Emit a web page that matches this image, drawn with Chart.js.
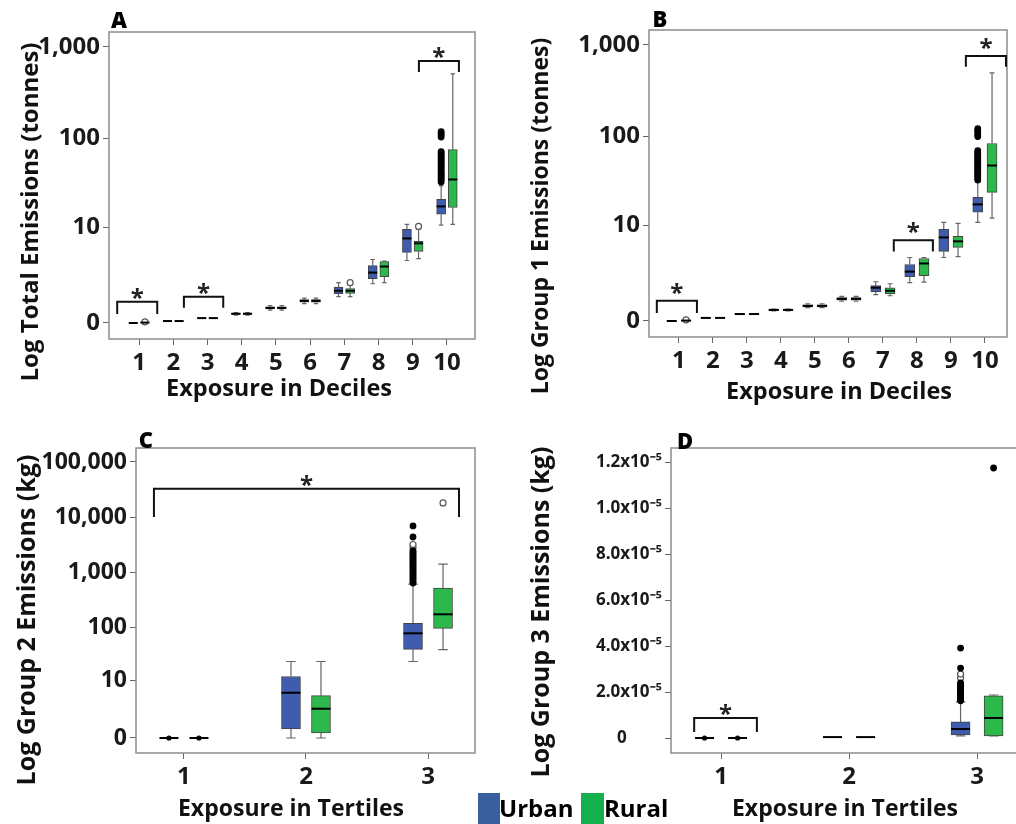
<!DOCTYPE html>
<html>
<head>
<meta charset="utf-8">
<script src="https://cdn.jsdelivr.net/npm/chart.js@4.4.1/dist/chart.umd.min.js"></script>
<style>
  body { margin: 0; width: 1016px; height: 824px; overflow: hidden; background: #fff; position: relative; font-family: "Open Sans", sans-serif; }
  canvas { position: absolute; }
  .t { position: absolute; font-weight: 700; color: #111; white-space: nowrap; transform: translate(-50%, -50%); }
  .rot { transform: translate(-50%, -50%) rotate(-90deg); }
  .letter { font-weight: 800; font-size: 22px; color: #000; }
  .swatch { position: absolute; width: 22px; height: 31px; top: 793px; }
  .leg { position: absolute; top: 791px; font-size: 24px; line-height: 33px; font-weight: 700; color: #000; }
</style>
</head>
<body>
<canvas id="pa" width="500" height="400" style="left:0;top:0"></canvas>
<canvas id="pb" width="516" height="400" style="left:500px;top:0"></canvas>
<canvas id="pc" width="500" height="424" style="left:0;top:400px"></canvas>
<canvas id="pd" width="540" height="424" style="left:500px;top:400px"></canvas>

<div class="t letter" style="left:119px;top:19px">A</div>
<div class="t letter" style="left:660px;top:18px">B</div>
<div class="t letter" style="left:146px;top:439px">C</div>
<div class="t letter" style="left:685px;top:440px">D</div>

<div class="t rot" style="left:28px;top:212px;font-size:24px">Log Total Emissions (tonnes)</div>
<div class="t rot" style="left:539px;top:216px;font-size:23px">Log Group 1 Emissions (tonnes)</div>
<div class="t rot" style="left:25px;top:620px;font-size:25px">Log Group 2 Emissions (kg)</div>
<div class="t rot" style="left:539px;top:612px;font-size:25px">Log Group 3 Emissions (kg)</div>

<div class="t" style="left:279px;top:387px;font-size:23.5px">Exposure in Deciles</div>
<div class="t" style="left:839px;top:390px;font-size:23.5px">Exposure in Deciles</div>
<div class="t" style="left:291px;top:807px;font-size:23px">Exposure in Tertiles</div>
<div class="t" style="left:845px;top:807px;font-size:23px">Exposure in Tertiles</div>

<div class="swatch" style="left:478px;background:#3a5f9e"></div>
<div class="leg" style="left:499px">Urban</div>
<div class="swatch" style="left:581px;width:23px;background:#14b04e"></div>
<div class="leg" style="left:604px">Rural</div>

<script>
// emissions box plots - urban vs rural by exposure group

const URBAN = '#3f5caf';
const RURAL = '#2cb84b';

// y is drawn as log10(value + 1), so 0 sits at the bottom
const logPlus1 = v => Math.log10(v + 1);
const plain = v => v;

const decileLabels = ['1', '2', '3', '4', '5', '6', '7', '8', '9', '10'];
const tertileLabels = ['1', '2', '3'];

const tonnesTicks = [0, 10, 100, 1000];
const tonnesTickLabels = ['0', '10', '100', '1,000'];
const kgTicks = [0, 10, 100, 1000, 10000, 100000];
const kgTickLabels = ['0', '10', '100', '1,000', '10,000', '100,000'];
const g3Ticks = [0, 2, 4, 6, 8, 10, 12]; // units of 10^-5 kg
const g3TickLabels = ['0        ', '2.0x10⁻⁵', '4.0x10⁻⁵', '6.0x10⁻⁵', '8.0x10⁻⁵', '1.0x10⁻⁵', '1.2x10⁻⁵'];

// box stats: [low whisker, q1, median, q3, high whisker]
const totalUrban = [
  [0, 0, 0, 0, 0],
  [0.04, 0.045, 0.05, 0.055, 0.06],
  [0.11, 0.12, 0.13, 0.14, 0.15],
  [0.22, 0.24, 0.26, 0.28, 0.30],
  [0.38, 0.42, 0.46, 0.50, 0.55],
  [0.62, 0.68, 0.74, 0.80, 0.86],
  [0.93, 1.08, 1.24, 1.45, 1.74],
  [1.67, 2.03, 2.53, 3.21, 3.90],
  [3.78, 4.85, 7.30, 9.45, 10.8],
  [10.6, 14.2, 17.5, 21.1, 30]
];
const totalRural = [
  [0, 0, 0.01, 0.02, 0.02],
  [0.04, 0.045, 0.05, 0.055, 0.06],
  [0.11, 0.12, 0.13, 0.14, 0.15],
  [0.22, 0.24, 0.26, 0.28, 0.30],
  [0.38, 0.42, 0.46, 0.50, 0.55],
  [0.62, 0.68, 0.74, 0.80, 0.86],
  [0.93, 1.10, 1.24, 1.36, 1.60],
  [1.74, 2.19, 3.11, 3.66, 3.70],
  [4.02, 5.00, 6.34, 6.72, 9.45],
  [10.8, 17.0, 35.3, 75.7, 509]
];
// outlier kinds: 'filled' extreme, 'open' outlier, 'dot' small marker
const totalOutliers = [
  { cat: 10, grp: 'urban', kind: 'filled', vals: [33, 34.5, 36, 37.5, 39, 40.5, 42, 44, 46, 48, 50, 52, 54, 56.5, 59, 61.5, 64, 67, 70, 72, 104, 109, 114, 119] },
  { cat: 1, grp: 'rural', kind: 'open', vals: [0.03] },
  { cat: 7, grp: 'rural', kind: 'open', vals: [1.74] },
  { cat: 9, grp: 'rural', kind: 'open', vals: [10.2] }
];
// significance brackets: [from x, to x, top value, leg end value]
const totalBrackets = [
  [0.36, 1.53, 0.70, 0.25],
  [2.31, 3.46, 0.93, 0.46],
  [9.18, 10.35, 704, 535]
];

const g1Urban = [
  [0, 0, 0, 0, 0],
  [0.07, 0.075, 0.08, 0.085, 0.09],
  [0.17, 0.18, 0.19, 0.20, 0.21],
  [0.29, 0.30, 0.32, 0.34, 0.35],
  [0.40, 0.42, 0.46, 0.50, 0.54],
  [0.64, 0.68, 0.74, 0.80, 0.85],
  [0.93, 1.08, 1.30, 1.42, 1.67],
  [1.61, 2.03, 2.44, 3.11, 3.90],
  [3.90, 4.70, 7.10, 8.94, 10.8],
  [10.8, 14.2, 17.5, 21.1, 31]
];
const g1Rural = [
  [0, 0, 0.01, 0.02, 0.02],
  [0.07, 0.075, 0.08, 0.085, 0.09],
  [0.17, 0.18, 0.19, 0.20, 0.21],
  [0.29, 0.30, 0.32, 0.34, 0.35],
  [0.40, 0.42, 0.46, 0.50, 0.54],
  [0.64, 0.68, 0.74, 0.80, 0.85],
  [0.88, 0.98, 1.13, 1.30, 1.54],
  [1.65, 2.11, 3.22, 3.78, 3.90],
  [4.00, 5.30, 6.34, 7.33, 10.5],
  [12.1, 24, 48, 84, 497]
];
const g1Outliers = [
  { cat: 10, grp: 'urban', kind: 'filled', vals: [33, 34.5, 36, 37.5, 39, 40.5, 42, 44, 46, 48, 50, 52, 54, 56.5, 59, 61.5, 64, 67, 70, 100, 105, 111, 117, 122] },
  { cat: 1, grp: 'rural', kind: 'open', vals: [0.03] }
];
const g1Brackets = [
  [0.35, 1.53, 0.66, 0.22],
  [7.32, 8.47, 6.53, 4.70],
  [9.44, 10.62, 760, 578]
];

const g2Urban = [
  [0, 0, 0, 0, 0],
  [0, 0.46, 5.6, 12.0, 23.3],
  [23.3, 39.3, 77.7, 118, 610]
];
const g2Rural = [
  [0, 0, 0, 0, 0],
  [0, 0.23, 2.39, 4.85, 23.3],
  [39, 96, 173, 517, 1410]
];
const g2Outliers = [
  { cat: 1, grp: 'urban', kind: 'dot', vals: [0] },
  { cat: 1, grp: 'rural', kind: 'dot', vals: [0] },
  { cat: 3, grp: 'urban', kind: 'filled', vals: [640, 680, 720, 770, 820, 870, 930, 990, 1050, 1120, 1190, 1270, 1350, 1440, 1530, 1630, 1730, 1840, 1960, 2080, 2200, 2330, 2450, 4370, 6930] },
  { cat: 3, grp: 'urban', kind: 'open', vals: [2800, 3200] },
  { cat: 3, grp: 'rural', kind: 'open', vals: [18150] }
];
const g2Brackets = [
  [0.754, 3.254, 32660, 10100]
];

const g3Urban = [
  [0, 0, 0, 0, 0],
  [0.03, 0.035, 0.04, 0.045, 0.05],
  [0.09, 0.13, 0.39, 0.70, 1.57]
];
const g3Rural = [
  [0, 0, 0, 0, 0],
  [0.03, 0.035, 0.04, 0.045, 0.05],
  [0.09, 0.09, 0.87, 1.83, 1.87]
];
const g3Outliers = [
  { cat: 1, grp: 'urban', kind: 'dot', vals: [0] },
  { cat: 1, grp: 'rural', kind: 'dot', vals: [0] },
  { cat: 3, grp: 'urban', kind: 'filled', vals: [1.62, 1.68, 1.74, 1.80, 1.86, 1.92, 1.98, 2.04, 2.10, 2.16, 2.22, 2.28, 2.34, 2.40, 3.04, 3.91] },
  { cat: 3, grp: 'urban', kind: 'open', vals: [2.62, 2.78] },
  { cat: 3, grp: 'rural', kind: 'filled', vals: [11.74] }
];
const g3Brackets = [
  [0.79, 1.28, 0.87, 0.26]
];

Chart.defaults.font.family = '"Open Sans", sans-serif';

const extras = {}; // per-canvas settings used by the plugin

// whiskers, medians, frame and significance brackets
const boxPlugin = {
  id: 'boxExtras',
  beforeDatasetsDraw(chart) {
    const o = extras[chart.canvas.id];
    if (!o) return;
    const { ctx, chartArea: a } = chart;
    const x = chart.scales.x, y = chart.scales.y;
    ctx.save();
    ctx.strokeStyle = '#8c8c8c';
    ctx.lineWidth = 1.5;
    ctx.strokeRect(a.left, a.top, a.right - a.left, a.bottom - a.top);

    ctx.strokeStyle = '#666';
    ctx.lineWidth = 1.2;
    [[o.urban, -o.off], [o.rural, o.off]].forEach(([stats, off]) => {
      stats.forEach((s, i) => {
        const cx = x.getPixelForValue(i + 1 + off);
        const lo = y.getPixelForValue(o.tf(s[0]));
        const q1 = y.getPixelForValue(o.tf(s[1]));
        const q3 = y.getPixelForValue(o.tf(s[3]));
        const hi = y.getPixelForValue(o.tf(s[4]));
        if (lo - hi < 1.5) return;
        const cw = o.bw / 4;
        ctx.beginPath();
        ctx.moveTo(cx, lo); ctx.lineTo(cx, q1);
        ctx.moveTo(cx, q3); ctx.lineTo(cx, hi);
        ctx.moveTo(cx - cw, lo); ctx.lineTo(cx + cw, lo);
        ctx.moveTo(cx - cw, hi); ctx.lineTo(cx + cw, hi);
        ctx.stroke();
      });
    });
    ctx.restore();
  },
  afterDatasetsDraw(chart) {
    const o = extras[chart.canvas.id];
    if (!o) return;
    const { ctx } = chart;
    const x = chart.scales.x, y = chart.scales.y;
    ctx.save();
    // medians
    ctx.strokeStyle = '#000';
    ctx.lineWidth = 2;
    [[o.urban, -o.off], [o.rural, o.off]].forEach(([stats, off]) => {
      stats.forEach((s, i) => {
        const cx = x.getPixelForValue(i + 1 + off);
        const m = y.getPixelForValue(o.tf(s[2]));
        ctx.beginPath();
        ctx.moveTo(cx - o.bw / 2, m);
        ctx.lineTo(cx + o.bw / 2, m);
        ctx.stroke();
      });
    });
    // brackets with stars
    ctx.strokeStyle = '#111';
    ctx.fillStyle = '#222';
    ctx.lineWidth = 2;
    ctx.font = 'bold 24px "Open Sans", sans-serif';
    ctx.textAlign = 'center';
    ctx.textBaseline = 'alphabetic';
    o.brackets.forEach(([x0, x1, top, bot]) => {
      const l = x.getPixelForValue(x0), r = x.getPixelForValue(x1);
      const t = y.getPixelForValue(o.tf(top)), b = y.getPixelForValue(o.tf(bot));
      ctx.beginPath();
      ctx.moveTo(l, b); ctx.lineTo(l, t); ctx.lineTo(r, t); ctx.lineTo(r, b);
      ctx.stroke();
      ctx.fillText('*', (l + r) / 2, t + o.starDrop);
    });
    ctx.restore();
  }
};
Chart.register(boxPlugin);

const pointLook = {
  filled: { r: 2.8, fill: '#000', line: '#000' },
  open: { r: 3, fill: '#fff', line: '#555' },
  dot: { r: 2, fill: '#000', line: '#000' }
};

function makePanel(id, o) {
  extras[id] = o;
  const boxData = (stats, off) => stats.map((s, i) => ({ x: i + 1 + off, y: [o.tf(s[1]), o.tf(s[3])] }));
  const datasets = [
    { type: 'bar', label: 'Urban', data: boxData(o.urban, -o.off), backgroundColor: URBAN,
      borderColor: '#444', borderWidth: 1, borderSkipped: false, barThickness: o.bw, grouped: false },
    { type: 'bar', label: 'Rural', data: boxData(o.rural, o.off), backgroundColor: RURAL,
      borderColor: '#444', borderWidth: 1, borderSkipped: false, barThickness: o.bw, grouped: false }
  ];
  o.outliers.forEach(g => {
    const dx = g.grp === 'urban' ? -o.off : o.off;
    const look = pointLook[g.kind];
    datasets.push({
      type: 'scatter',
      data: g.vals.map(v => ({ x: g.cat + dx, y: o.tf(v) })),
      showLine: false,
      pointRadius: look.r,
      pointBackgroundColor: look.fill,
      pointBorderColor: look.line,
      pointBorderWidth: 1.2
    });
  });

  const tickFont = { size: o.tickSize, weight: 'bold' };
  new Chart(document.getElementById(id), {
    type: 'bar',
    data: { datasets: datasets },
    options: {
      responsive: false,
      animation: false,
      layout: { padding: o.pad },
      plugins: { legend: { display: false }, tooltip: { enabled: false } },
      scales: {
        x: {
          type: 'linear', min: o.xMin, max: o.xMax, offset: false,
          afterBuildTicks: s => { s.ticks = o.xLabels.map((l, i) => ({ value: i + 1 })); },
          afterFit: s => { s.height = o.xH; },
          ticks: { autoSkip: false, maxRotation: 0, padding: 4, color: '#1a1a1a',
                   font: { size: 24, weight: 'bold' }, callback: (v, i) => o.xLabels[i] },
          grid: { drawOnChartArea: false, offset: false, tickLength: 6, color: '#666' },
          border: { display: false }
        },
        y: {
          type: 'linear', min: o.yMin, max: o.yMax,
          afterBuildTicks: s => { s.ticks = o.yTicks.map(v => ({ value: o.tf(v) })); },
          afterFit: s => { s.width = o.yW; },
          ticks: { padding: 3, color: '#1a1a1a', font: tickFont, callback: (v, i) => o.yLabels[i] },
          grid: { drawOnChartArea: false, tickLength: 6, color: '#666' },
          border: { display: false }
        }
      }
    }
  });
}

makePanel('pa', {
  urban: totalUrban, rural: totalRural, outliers: totalOutliers, brackets: totalBrackets,
  tf: logPlus1, xLabels: decileLabels, yTicks: tonnesTicks, yLabels: tonnesTickLabels,
  xMin: 0.12, xMax: 10.82, yMin: -0.174, yMax: 3.163,
  pad: { left: 0, right: 25, top: 32, bottom: 0 }, yW: 109, xH: 61,
  off: 0.17, bw: 9, tickSize: 24, starDrop: 4
});
makePanel('pb', {
  urban: g1Urban, rural: g1Rural, outliers: g1Outliers, brackets: g1Brackets,
  tf: logPlus1, xLabels: decileLabels, yTicks: tonnesTicks, yLabels: tonnesTickLabels,
  xMin: 0.12, xMax: 10.65, yMin: -0.174, yMax: 3.163,
  pad: { left: 0, right: 9, top: 30, bottom: 0 }, yW: 149, xH: 63,
  off: 0.21, bw: 10, tickSize: 24, starDrop: 0
});
makePanel('pc', {
  urban: g2Urban, rural: g2Rural, outliers: g2Outliers, brackets: g2Brackets,
  tf: logPlus1, xLabels: tertileLabels, yTicks: kgTicks, yLabels: kgTickLabels,
  xMin: 0.607, xMax: 3.385, yMin: -0.272, yMax: 5.253,
  pad: { left: 0, right: 25, top: 48, bottom: 0 }, yW: 136, xH: 71,
  off: 0.123, bw: 19, tickSize: 23, starDrop: 4
});
makePanel('pd', {
  urban: g3Urban, rural: g3Rural, outliers: g3Outliers, brackets: g3Brackets,
  tf: plain, xLabels: tertileLabels, yTicks: g3Ticks, yLabels: g3TickLabels,
  xMin: 0.609, xMax: 3.39, yMin: -0.652, yMax: 12.61,
  pad: { left: 0, right: 13, top: 48, bottom: 0 }, yW: 171, xH: 71,
  off: 0.129, bw: 19, tickSize: 17, starDrop: 4
});
</script>
</body>
</html>
